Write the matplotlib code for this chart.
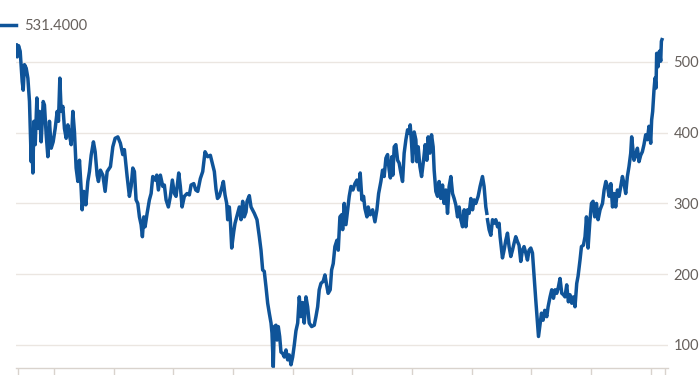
import numpy as np
import matplotlib
matplotlib.use("Agg")
import matplotlib.pyplot as plt
from matplotlib.lines import Line2D

# Price series (decimal year, value); NaN marks the small gap in the line
years = [
    2013.363, 2013.380, 2013.402, 2013.430, 2013.447, 2013.464, 2013.481, 2013.502, 2013.531, 2013.559,
    2013.586, 2013.603, 2013.615, 2013.626, 2013.643, 2013.660, 2013.682, 2013.710, 2013.727, 2013.754,
    2013.782, 2013.816, 2013.837, 2013.866, 2013.894, 2013.921, 2013.950, 2013.983, 2014.017, 2014.050,
    2014.072, 2014.095, 2014.117, 2014.146, 2014.172, 2014.201, 2014.229, 2014.256, 2014.285, 2014.313,
    2014.340, 2014.368, 2014.397, 2014.424, 2014.452, 2014.469, 2014.497, 2014.531, 2014.564, 2014.591,
    2014.620, 2014.658, 2014.687, 2014.720, 2014.742, 2014.775, 2014.816, 2014.854, 2014.888, 2014.926,
    2014.943, 2014.983, 2015.022, 2015.067, 2015.110, 2015.150, 2015.177, 2015.223, 2015.261, 2015.290,
    2015.318, 2015.345, 2015.373, 2015.402, 2015.429, 2015.457, 2015.479, 2015.502, 2015.524, 2015.558,
    2015.596, 2015.625, 2015.653, 2015.692, 2015.720, 2015.747, 2015.780, 2015.821, 2015.847, 2015.876,
    2015.914, 2015.948, 2015.981, 2016.015, 2016.043, 2016.088, 2016.115, 2016.144, 2016.182, 2016.228,
    2016.266, 2016.295, 2016.340, 2016.373, 2016.407, 2016.450, 2016.490, 2016.529, 2016.574, 2016.618,
    2016.658, 2016.685, 2016.713, 2016.738, 2016.768, 2016.809, 2016.836, 2016.864, 2016.892, 2016.909,
    2016.936, 2016.953, 2016.976, 2017.010, 2017.032, 2017.077, 2017.104, 2017.132, 2017.160, 2017.187,
    2017.216, 2017.233, 2017.271, 2017.300, 2017.355, 2017.400, 2017.439, 2017.467, 2017.495, 2017.522,
    2017.551, 2017.579, 2017.606, 2017.635, 2017.651, 2017.673, 2017.690, 2017.718, 2017.735, 2017.757,
    2017.780, 2017.802, 2017.831, 2017.858, 2017.886, 2017.914, 2017.941, 2017.970, 2017.998, 2018.025,
    2018.053, 2018.082, 2018.092, 2018.109, 2018.137, 2018.165, 2018.192, 2018.221, 2018.249, 2018.276,
    2018.316, 2018.360, 2018.388, 2018.417, 2018.443, 2018.472, 2018.510, 2018.539, 2018.567, 2018.593,
    2018.627, 2018.651, 2018.678, 2018.706, 2018.740, 2018.762, 2018.790, 2018.819, 2018.836, 2018.862,
    2018.891, 2018.919, 2018.946, 2018.975, 2019.008, 2019.042, 2019.075, 2019.104, 2019.130, 2019.159,
    2019.187, 2019.209, 2019.243, 2019.264, 2019.298, 2019.338, 2019.377, 2019.410, 2019.439, 2019.477,
    2019.505, 2019.532, 2019.561, 2019.589, 2019.616, 2019.636, 2019.661, 2019.678, 2019.700, 2019.728,
    2019.757, 2019.783, 2019.812, 2019.840, 2019.867, 2019.896, 2019.924, 2019.951, 2019.968, 2019.991,
    2020.008, 2020.035, 2020.063, 2020.080, 2020.102, 2020.131, 2020.159, 2020.192, 2020.219, 2020.248,
    2020.269, 2020.298, 2020.326, 2020.353, 2020.370, 2020.398, 2020.427, 2020.453, 2020.482, 2020.510,
    2020.537, 2020.566, 2020.594, 2020.621, 2020.650, 2020.678, 2020.705, 2020.733, 2020.762, 2020.789,
    2020.817, 2020.846, 2020.873, 2020.901, 2020.929, 2020.956, 2020.985, 2021.013, 2021.040, 2021.068,
    2021.107, 2021.140, 2021.180, 2021.207, 2021.236, 2021.253, 2021.259, 2021.264, 2021.291, 2021.320,
    2021.348, 2021.375, 2021.403, 2021.432, 2021.458, 2021.475, 2021.515, 2021.542, 2021.571, 2021.599,
    2021.626, 2021.655, 2021.683, 2021.710, 2021.738, 2021.767, 2021.793, 2021.822, 2021.850, 2021.877,
    2021.906, 2021.934, 2021.961, 2021.990, 2022.018, 2022.045, 2022.073, 2022.102, 2022.119, 2022.140,
    2022.169, 2022.196, 2022.224, 2022.258, 2022.280, 2022.313, 2022.341, 2022.370, 2022.397, 2022.425,
    2022.453, 2022.480, 2022.509, 2022.537, 2022.563, 2022.592, 2022.620, 2022.647, 2022.676, 2022.704,
    2022.731, 2022.760, 2022.782, 2022.815, 2022.839, 2022.872, 2022.899, 2022.923, 2022.950, 2022.978,
    2023.007, 2023.034, 2023.062, 2023.091, 2023.118, 2023.151, 2023.192, 2023.219, 2023.248, 2023.276,
    2023.303, 2023.332, 2023.360, 2023.387, 2023.413, 2023.442, 2023.469, 2023.498, 2023.526, 2023.553,
    2023.581, 2023.609, 2023.636, 2023.665, 2023.681, 2023.703, 2023.720, 2023.748, 2023.777, 2023.804,
    2023.832, 2023.860, 2023.887, 2023.916, 2023.944, 2023.971, 2024.000, 2024.016, 2024.033, 2024.055,
    2024.072, 2024.089, 2024.100, 2024.122, 2024.146, 2024.168, 2024.179, 2024.189,
]
values = [
    524, 507, 523, 515, 493, 472, 460, 496, 491, 477,
    444, 397, 359, 397, 343, 416, 383, 449, 406, 430,
    387, 444, 439, 397, 366, 416, 378, 387, 406, 430,
    416, 477, 430, 437, 406, 392, 411, 397, 383, 430,
    401, 350, 331, 361, 321, 291, 317, 298, 331, 345,
    368, 387, 373, 340, 331, 347, 340, 317, 345, 350,
    352, 380, 392, 394, 385, 369, 376, 338, 310, 324,
    350, 345, 305, 300, 281, 270, 253, 281, 267, 286,
    305, 314, 338, 333, 340, 319, 340, 324, 326, 305,
    295, 310, 333, 314, 310, 343, 324, 295, 310, 314,
    312, 326, 328, 319, 317, 335, 345, 373, 366, 368,
    354, 345, 320, 307, 310, 322, 331, 312, 300, 277,
    295, 277, 237, 260, 272, 286, 295, 277, 303, 281,
    288, 303, 311, 295, 286, 277, 253, 234, 206, 204,
    182, 159, 145, 131, 117, 69, 126, 128, 107, 126,
    112, 90, 88, 83, 93, 79, 86, 72, 83, 100,
    120, 131, 145, 168, 140, 160, 131, 168, 154, 131,
    126, 128, 140, 154, 178, 187, 190, 199, 185, 173,
    178, 206, 215, 239, 248, 234, 281, 284, 263, 300,
    270, 291, 310, 324, 319, 328, 333, 319, 343, 305,
    310, 293, 281, 295, 284, 291, 274, 291, 314, 331,
    347, 338, 364, 369, 347, 336, 366, 340, 380, 383,
    361, 357, 343, 331, 371, 390, 404, 399, 411, 385,
    359, 401, 390, 359, 380, 352, 338, 361, 383, 361,
    394, 371, 397, 380, 347, 317, 310, 331, 307, 326,
    300, 319, 286, 324, 338, 314, 307, 298, 281, 295,
    277, 267, 291, 267, 291, 286, 307, 291, 305, 300,
    310, 324, 338, 324, 295, 286, np.nan, 277, 263, 255,
    277, 272, 277, 267, 272, 253, 223, 234, 248, 258,
    239, 225, 234, 244, 253, 246, 241, 218, 234, 239,
    230, 220, 234, 237, 230, 197, 164, 131, 112, 126,
    145, 135, 149, 140, 154, 168, 178, 166, 178, 173,
    182, 194, 173, 171, 168, 185, 161, 171, 159, 168,
    154, 187, 197, 220, 239, 241, 253, 281, 237, 272,
    300, 303, 281, 300, 277, 291, 300, 319, 331, 324,
    310, 328, 295, 314, 295, 319, 310, 324, 338, 328,
    314, 338, 352, 371, 394, 376, 361, 368, 378, 359,
    368, 373, 383, 397, 390, 409, 385, 418, 430, 460,
    477, 463, 512, 493, 515, 501, 529, 531.4,
]
y_ticks = [100, 200, 300, 400, 500]
x_ticks = [2013.39, 2014, 2015, 2016, 2017, 2018, 2019, 2020, 2021, 2022, 2023, 2024, 2024.234]
legend_label = "531.4000"

blue = "#0f5499"
text_grey = "#66605c"
grid_col = "#ebe6e1"
axis_col = "#d9d3cd"

plt.rcParams["font.family"] = ["Lato", "DejaVu Sans"]

fig = plt.figure(figsize=(7, 3.75), dpi=100)
ax = fig.add_axes([16 / 700, 7 / 375, 652 / 700, 338 / 375])

ax.plot(years, values, color=blue, linewidth=2.5, solid_joinstyle="round")

ax.set_xlim(2013.36, 2024.29)
ax.set_ylim(67.5, 545)

ax.set_yticks(y_ticks)
ax.yaxis.tick_right()
ax.tick_params(axis="y", length=0, pad=4, labelsize=10.5, labelcolor=text_grey)
ax.grid(axis="y", color=grid_col, linewidth=1)
ax.set_axisbelow(True)

ax.set_xticks(x_ticks)
ax.set_xticklabels([])
ax.tick_params(axis="x", length=6, width=1, color=axis_col, direction="out")

for side in ["left", "right", "top"]:
    ax.spines[side].set_visible(False)
ax.spines["bottom"].set_color(axis_col)
ax.spines["bottom"].set_linewidth(1)

# legend key drawn at figure level, top left
fig.add_artist(Line2D([0, 16 / 700], [1 - 25 / 375, 1 - 25 / 375], color=blue, linewidth=2.5,
                      transform=fig.transFigure))
fig.text(24 / 700, 1 - 26 / 375, legend_label, color=text_grey, fontsize=10.5, va="center", ha="left")

fig.savefig("out.png", dpi=100)
